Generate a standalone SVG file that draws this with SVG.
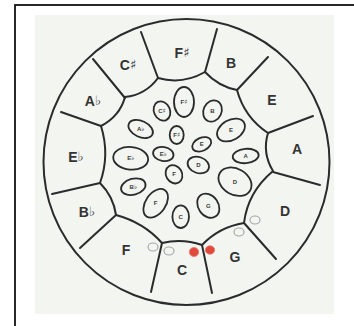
<svg xmlns="http://www.w3.org/2000/svg" width="354" height="326" viewBox="0 0 354 326">
<style>
.ln{fill:none;stroke:#2b2b2b;stroke-width:2;stroke-linecap:round;stroke-linejoin:round}
.el{fill:none;stroke:#2b2b2b;stroke-width:1.8}
.big{font-family:"Liberation Sans",Arial,sans-serif;font-weight:bold;font-size:14px;fill:#333;text-anchor:middle;dominant-baseline:central}
.acc{font-family:"DejaVu Sans",sans-serif;font-weight:normal;font-size:13px}
.sm{font-family:"Liberation Sans",Arial,sans-serif;font-weight:bold;font-size:6px;fill:#3a3a3a;text-anchor:middle;dominant-baseline:central}
.sa{font-family:"DejaVu Sans",sans-serif;font-weight:normal;font-size:6.5px}
.oc{fill:none;stroke:#a8a8a8;stroke-width:1.2}
.rc{fill:#e04a3c;stroke:#e8786c;stroke-width:0.8}
</style>
<rect x="0" y="0" width="354" height="326" fill="#ffffff"/>
<rect x="15" y="5" width="345" height="330" fill="#ffffff" stroke="#111" stroke-width="1.8"/>
<rect x="35" y="15" width="299" height="299" fill="#f3f5f1"/>
<g id="connectors">
<circle class="ln" cx="186.5" cy="162" r="143"/>
<path class="ln" d="M93,59 L125,98 M141,32 L158,78 M217,29 L205,72 M268,57 L237,90 M313,116 L268,133 M320,185 L273,172 M276,259 L244,223 M212,293 L202,245 M151,292 L162,243 M80,248 L116,215 M52,194 L100,183 M61,112 L101,126"/>
<path class="ln" d="M125,97 Q145.6,94.9 158,78 Q182,85 205,72 Q218.6,86.5 237,90 Q244.5,117.5 268,133 Q262,153 273,171 Q247.7,192.2 244,223 Q219.3,226.9 202,245 Q182.3,238 162,243 Q143.6,222.4 116,215 Q113.4,196.4 100,183 Q110,155 101,126 Q120,116 125,97 Z"/>
</g>
<g id="outer-labels">
<text class="big" x="128" y="65">C<tspan class="acc" dy="-1">♯</tspan></text>
<text class="big" x="182" y="53">F<tspan class="acc" dy="-1">♯</tspan></text>
<text class="big" x="231" y="63">B</text>
<text class="big" x="272" y="100">E</text>
<text class="big" x="297" y="149">A</text>
<text class="big" x="285" y="211">D</text>
<text class="big" x="235" y="257">G</text>
<text class="big" x="182" y="270">C</text>
<text class="big" x="126" y="250">F</text>
<text class="big" x="87" y="212">B<tspan class="acc" dy="-1.5">♭</tspan></text>
<text class="big" x="76" y="157">E<tspan class="acc" dy="-1.5">♭</tspan></text>
<text class="big" x="93" y="101">A<tspan class="acc" dy="-1.5">♭</tspan></text>
</g>
<g id="tone-fields">
<g id="f-fs1"><ellipse class="el" cx="184" cy="102" rx="10" ry="15"/><text class="sm" x="184" y="102">F<tspan class="sa">♯</tspan></text></g>
<g id="f-cs"><ellipse class="el" cx="162" cy="111" rx="8" ry="10" transform="rotate(-25 162 111)"/><text class="sm" x="162" y="111">C<tspan class="sa">♯</tspan></text></g>
<g id="f-b"><ellipse class="el" cx="212.5" cy="111" rx="9" ry="11" transform="rotate(25 212.5 111)"/><text class="sm" x="212.5" y="111">B</text></g>
<g id="f-ab"><ellipse class="el" cx="140.7" cy="129" rx="13" ry="8" transform="rotate(25 140.7 129)"/><text class="sm" x="140.7" y="129">A<tspan class="sa">♭</tspan></text></g>
<g id="f-e1"><ellipse class="el" cx="231" cy="130" rx="15" ry="10" transform="rotate(-30 231 130)"/><text class="sm" x="231" y="130">E</text></g>
<g id="f-eb1"><ellipse class="el" cx="130.7" cy="158.3" rx="17.5" ry="11.3" transform="rotate(5 130.7 158.3)"/><text class="sm" x="130.7" y="158.3">E<tspan class="sa">♭</tspan></text></g>
<g id="f-a"><ellipse class="el" cx="245.7" cy="156" rx="13" ry="7.2" transform="rotate(-5 245.7 156)"/><text class="sm" x="245.7" y="156">A</text></g>
<g id="f-bb"><ellipse class="el" cx="133.3" cy="186.7" rx="12.5" ry="8" transform="rotate(-15 133.3 186.7)"/><text class="sm" x="133.3" y="186.7">B<tspan class="sa">♭</tspan></text></g>
<g id="f-d1"><ellipse class="el" cx="235" cy="181.7" rx="17.5" ry="13" transform="rotate(30 235 181.7)"/><text class="sm" x="235" y="181.7">D</text></g>
<g id="f-f1"><ellipse class="el" cx="155.7" cy="203.3" rx="10" ry="16" transform="rotate(35 155.7 203.3)"/><text class="sm" x="155.7" y="203.3">F</text></g>
<g id="f-g"><ellipse class="el" cx="208.3" cy="205.7" rx="10" ry="13" transform="rotate(-35 208.3 205.7)"/><text class="sm" x="208.3" y="205.7">G</text></g>
<g id="f-c"><ellipse class="el" cx="180.7" cy="216.7" rx="8.3" ry="11.3"/><text class="sm" x="180.7" y="216.7">C</text></g>
<g id="f-fs2"><ellipse class="el" cx="176.7" cy="135" rx="7" ry="9"/><text class="sm" x="176.7" y="135">F<tspan class="sa">♯</tspan></text></g>
<g id="f-e2"><ellipse class="el" cx="201.7" cy="144.3" rx="10" ry="6.5" transform="rotate(-25 201.7 144.3)"/><text class="sm" x="201.7" y="144.3">E</text></g>
<g id="f-eb2"><ellipse class="el" cx="163.3" cy="154" rx="10.3" ry="7" transform="rotate(10 163.3 154)"/><text class="sm" x="163.3" y="154">E<tspan class="sa">♭</tspan></text></g>
<g id="f-d2"><ellipse class="el" cx="198.3" cy="165" rx="11" ry="8" transform="rotate(20 198.3 165)"/><text class="sm" x="198.3" y="165">D</text></g>
<g id="f-f2"><ellipse class="el" cx="174" cy="174.3" rx="8" ry="9.5" transform="rotate(-30 174 174.3)"/><text class="sm" x="174" y="174.3">F</text></g>
</g>
<g id="dots">
<ellipse class="oc" cx="153" cy="247" rx="5" ry="4"/>
<ellipse class="oc" cx="169" cy="251" rx="5" ry="4"/>
<ellipse class="oc" cx="255" cy="220" rx="5" ry="4"/>
<ellipse class="oc" cx="239" cy="232" rx="5" ry="4"/>
<ellipse class="rc" cx="194" cy="252" rx="4.7" ry="4.5"/>
<ellipse class="rc" cx="210" cy="250" rx="4.7" ry="4.2"/>
</g>
</svg>
